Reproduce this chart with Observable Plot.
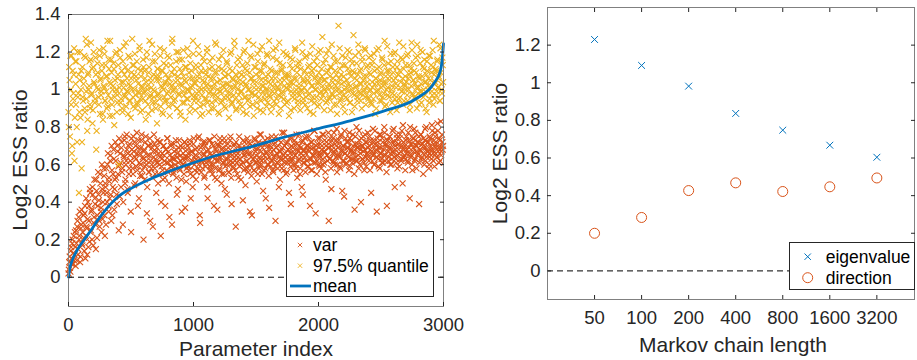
<!DOCTYPE html>
<html><head><meta charset="utf-8">
<script src="https://cdn.jsdelivr.net/npm/d3@7"></script>
<script src="https://cdn.jsdelivr.net/npm/@observablehq/plot@0.6"></script>
<style>
body{margin:0;background:#fff;}
#wrap{position:relative;width:917px;height:360px;overflow:hidden;font-family:"Liberation Sans",Arial,Helvetica,sans-serif;}
#wrap > svg{position:absolute;top:0;}
</style></head><body><div id="wrap"></div>
<script>
// ---------- data (left panel): parameter index step, values in hundredths ----------
const indexStep = 6;
// set A at index i*6, set B at index i*6+3
const varValues = [
2,8,5,14,10,18,7,22,12,16, 25,9,30,15,20,35,11,28,18,24, 33,14,38,22,27,12,40,30,19,45,
25,36,48,17,32,42,28,52,21,38, 44,30,55,35,24,47,40,58,33,50, 28,45,60,38,53,42,65,30,57,48,
68,36,52,62,44,70,55,25,60,66, 48,72,58,40,64,75,52,62,68,45, 70,58,65,35,74,61,55,67,72,50,
63,77,57,69,42,66,60,73,54,64, 20,68,59,75,62,48,70,56,65,30, 71,60,53,67,76,58,63,45,69,61,
55,72,64,22,59,66,52,70,62,38, 68,57,74,61,50,65,59,71,28,63, 56,67,60,73,53,64,47,69,58,62,
70,35,60,66,55,72,63,51,68,59, 64,57,71,42,61,67,54,74,60,65, 52,69,62,58,75,33,63,56,70,61,
66,53,72,59,64,48,68,62,57,73, 60,65,55,70,38,63,58,67,52,71, 62,57,74,64,50,68,61,55,72,59,
66,44,63,69,56,60,75,53,65,61, 58,71,62,27,67,55,64,70,59,63, 52,68,61,73,57,65,49,69,62,58,
72,60,35,66,54,70,63,57,74,61, 65,51,69,62,58,76,60,67,55,71, 63,57,73,42,66,60,70,54,64,68,
59,75,62,56,71,65,30,69,61,58, 73,64,52,67,60,77,63,57,70,66, 55,72,61,68,45,64,59,74,62,69,
57,71,65,60,76,53,67,63,70,58, 66,48,73,61,68,64,56,75,62,70, 59,67,38,72,63,57,69,65,78,61,
68,55,71,64,60,74,66,58,70,63, 76,61,67,52,72,65,69,30,63,74, 58,70,66,62,77,60,68,73,56,65,
71,64,59,75,67,46,70,62,78,66, 60,72,65,69,57,74,63,68,61,76, 67,55,71,64,80,62,69,58,73,66,
40,70,63,75,61,68,72,59,66,77, 64,70,57,73,67,62,79,65,60,71, 68,35,74,63,69,58,76,66,61,72,
65,80,62,70,56,73,67,64,75,60, 69,63,78,66,72,48,68,61,74,65, 71,59,76,67,63,70,81,64,68,57,
73,66,62,77,69,42,71,65,60,74, 67,79,63,70,58,72,66,75,61,68, 76,64,71,55,69,73,62,80,67,65,
72,60,74,68,63,78,66,71,59,75, 69,64,82,67,61,73,70,65,76,68
];
const varValuesB = [
4,11,3,16,7,20,13,9,24,6, 18,27,12,32,22,8,26,36,17,29, 21,34,10,42,26,31,16,38,47,24,
35,20,44,29,52,39,15,46,33,56, 41,27,50,37,60,31,45,54,22,48, 58,40,66,35,51,62,44,70,33,55,
63,47,72,53,39,67,59,74,43,61, 69,56,28,65,73,50,60,76,47,66, 55,71,62,24,68,58,75,49,64,70,
59,66,38,73,61,54,69,76,57,63, 67,52,72,60,34,65,70,56,74,62, 58,69,27,64,71,55,67,61,73,50,
66,60,72,40,63,57,70,65,53,68, 61,74,56,67,32,62,70,59,64,55, 71,63,58,68,44,66,61,73,57,65,
52,69,63,60,72,37,64,58,70,66, 59,73,55,67,62,48,71,64,57,68, 63,56,74,60,66,29,69,62,58,72,
65,54,70,61,67,42,63,73,59,66, 57,71,64,60,75,53,68,62,36,70, 64,58,72,66,55,69,61,74,47,63,
68,60,71,56,65,73,62,39,67,59, 70,64,57,72,61,66,53,75,63,68, 60,69,41,65,72,58,67,62,74,56,
66,71,60,64,33,70,63,57,73,67, 61,68,55,72,64,59,76,62,69,46, 65,71,58,67,63,74,60,37,70,66,
62,73,57,68,64,59,75,66,61,70, 48,67,63,72,58,69,65,77,61,64, 71,56,68,62,74,66,39,70,63,67,
60,73,65,58,71,68,62,76,55,69, 64,72,44,67,61,74,66,70,59,68, 75,63,69,57,72,65,61,78,67,34,
70,62,74,66,59,71,64,68,76,60, 67,73,56,70,65,62,77,69,63,72, 47,68,74,61,66,71,64,79,60,69,
73,65,58,76,68,62,70,43,66,74, 61,69,72,64,77,59,67,73,63,70, 66,36,75,62,69,71,65,78,60,68,
74,63,70,67,57,76,64,72,66,69, 62,75,68,45,71,65,73,60,78,67, 70,64,72,59,76,66,69,63,74,61,
68,77,65,71,38,73,62,69,75,66, 60,72,67,79,64,70,63,76,58,71, 66,74,69,62,78,50,72,65,70,63,
75,68,61,73,66,80,64,71,57,69, 74,62,77,67,70,65,72,39,68,76, 63,71,66,74,60,79,69,64,72,67,
58,75,70,65,81,68,62,73,77,66, 71,64,78,69,74,62,83,67,72,70
];
const quantileValues = [
88,112,75,100,118,70,95,108,62,115, 92,80,120,98,45,105,85,110,72,96, 103,118,88,127,95,78,108,100,115,90,
125,98,82,112,104,93,117,68,101,109, 96,121,87,106,99,113,84,102,119,94, 107,90,126,97,111,86,103,116,92,100,
114,81,105,98,120,93,108,60,101,117, 95,110,88,104,123,97,112,91,106,99, 118,94,102,85,109,127,96,113,100,90,
107,115,93,103,98,121,88,110,101,95, 112,99,106,84,117,102,92,109,126,97, 104,89,115,100,96,119,93,107,82,111,
98,105,122,91,110,101,87,114,96,103, 108,94,118,99,106,86,113,102,125,92, 100,111,95,104,120,90,107,98,116,88,
103,109,93,121,97,105,84,112,100,95, 118,99,106,91,110,102,126,96,104,89, 113,98,107,94,119,101,86,110,97,105,
92,115,100,108,95,122,103,88,111,99, 106,93,117,101,90,109,97,124,104,96, 112,87,105,99,118,94,102,110,91,107,
100,115,96,103,85,111,98,120,93,106, 101,126,95,108,90,104,116,97,109,92, 103,99,113,88,107,121,96,102,110,94,
126,100,91,106,117,98,104,86,112,97, 108,93,119,101,96,110,89,105,123,99, 102,114,95,107,91,118,100,104,97,111,
88,106,99,121,94,103,109,92,116,101, 97,125,105,90,110,98,113,95,102,107, 119,93,100,108,86,104,117,99,111,96,
103,90,122,106,98,112,94,101,115,89, 107,100,120,95,104,110,92,118,99,105, 97,113,88,108,102,123,96,111,93,106,
100,117,91,104,109,98,121,95,107,102, 114,89,105,99,119,94,110,103,96,112, 101,124,97,106,92,115,100,108,87,104,
134,98,111,95,103,118,91,107,100,113, 96,105,121,99,109,93,102,116,88,110, 129,97,106,101,114,94,108,120,98,103,
111,90,117,105,99,122,96,107,102,113, 95,109,100,118,92,104,115,98,110,87, 106,121,99,103,112,94,108,101,117,96,
104,113,91,107,100,123,97,110,105,88, 115,102,98,109,119,95,106,101,112,93, 108,125,96,104,99,116,92,111,103,107,
100,118,94,106,113,89,109,102,121,97, 105,110,95,117,101,124,98,107,92,114, 103,99,120,96,111,104,90,108,115,100,
106,93,118,102,109,97,112,126,95,104, 110,99,116,101,107,94,122,103,98,113
];
const quantileValuesB = [
80,105,118,92,66,110,98,122,85,103, 115,72,96,108,88,120,100,58,112,94, 106,90,117,99,124,84,109,102,92,116,
97,111,89,120,103,95,108,78,114,100, 92,118,105,97,110,87,122,101,94,113, 99,107,91,116,104,126,95,109,86,102,
111,96,119,100,88,106,113,98,121,93, 104,90,115,101,108,96,125,99,110,87, 103,117,94,106,100,113,91,108,119,97,
105,92,111,99,123,95,107,102,89,116, 98,110,94,104,120,100,87,112,96,106, 101,124,93,108,99,115,90,105,111,97,
107,95,118,102,88,110,100,121,94,104, 113,98,106,91,117,103,96,109,127,99, 94,108,101,115,90,105,120,97,111,86,
102,116,99,107,93,112,104,95,122,100, 109,88,114,101,97,106,119,94,103,111, 96,105,123,99,108,91,113,100,87,117,
104,95,110,102,120,93,107,98,115,101, 90,112,97,106,103,125,94,109,100,88, 116,99,105,93,111,102,121,96,107,90,
103,114,98,108,95,119,101,92,110,105, 97,123,102,89,113,100,106,94,117,99, 108,91,104,120,96,111,103,87,114,100,
95,109,118,98,106,92,124,101,97,112, 104,90,115,99,107,121,94,110,102,88, 113,97,105,100,119,93,108,126,96,103,
110,91,117,101,98,106,122,95,109,100, 87,114,103,96,111,99,120,105,92,108, 101,118,94,107,102,113,89,104,116,98,
106,95,121,100,109,92,114,103,97,111, 99,125,93,105,101,117,96,108,90,112, 104,98,119,94,110,102,87,115,100,107,
96,113,103,120,92,106,99,111,128,97, 105,100,116,93,109,101,121,95,107,89, 112,98,104,118,96,110,102,92,115,100,
106,122,94,108,99,113,97,104,88,117, 101,95,111,103,120,93,107,100,114,98, 109,91,118,102,105,96,124,99,110,94,
103,115,97,107,100,121,92,112,104,96, 117,99,108,93,113,101,95,119,103,106, 90,111,100,122,97,105,109,94,116,102,
98,126,104,92,110,101,114,96,107,119, 100,93,112,105,97,120,103,89,115,108, 95,110,101,117,99,106,123,94,102,113,
104,97,119,100,108,92,111,125,98,105, 114,96,103,109,90,118,101,106,99,121, 93,107,112,100,116,97,104,88,110,102,
118,95,105,113,99,121,92,108,103,111, 97,115,101,106,124,94,109,100,117,104
];
const meanIndex  = [0, 10, 30, 70, 125, 180, 230, 310, 390, 520, 660, 790, 1000, 1190, 1460, 1720, 1990, 2260, 2520, 2790, 2920, 2975, 2995, 3000];
const meanValues = [0, 0.045, 0.09, 0.145, 0.20, 0.25, 0.30, 0.37, 0.425, 0.48, 0.525, 0.56, 0.61, 0.65, 0.695, 0.745, 0.79, 0.835, 0.885, 0.955, 1.03, 1.10, 1.20, 1.245];
const leftXTicks = [0, 1000, 2000, 3000];
const leftYTicks = [0, 0.2, 0.4, 0.6, 0.8, 1, 1.2, 1.4];

// ---------- data (right panel) ----------
const chainLengths = [50, 100, 200, 400, 800, 1600, 3200];
const eigenvalueRatio = [1.230, 1.092, 0.982, 0.837, 0.748, 0.668, 0.604];
const directionRatio  = [0.200, 0.284, 0.427, 0.468, 0.422, 0.447, 0.494];
const rightYTicks = [0, 0.2, 0.4, 0.6, 0.8, 1, 1.2];

const BLUE = "#0072BD", ORANGE = "#D95319", YELLOW = "#EDB120", INK = "#262626";
const FONT = '"Liberation Sans", Arial, Helvetica, sans-serif';

const toRows = (arr, offset) => arr.map((v, i) => ({x: i * indexStep + offset, y: v / 100}));
const varData = [...toRows(varValues, 0), ...toRows(varValuesB, indexStep / 2)];
const qData = [...toRows(quantileValues, 0), ...toRows(quantileValuesB, indexStep / 2)];
const meanData = meanIndex.map((x, i) => ({x, y: meanValues[i]}));
const rightData = chainLengths.map((n, i) => ({n, eig: eigenvalueRatio[i], dir: directionRatio[i]}));

const baseStyle = {fontFamily: FONT, fontSize: "18.5px", color: INK, background: "transparent", overflow: "visible"};

const left = Plot.plot({
  width: 470, height: 360, marginLeft: 68, marginRight: 27, marginTop: 14, marginBottom: 54,
  style: baseStyle,
  x: {domain: [0, 3000]},
  y: {domain: [-0.156, 1.4]},
  marks: [
    Plot.dot(varData, {x: "x", y: "y", symbol: "times", r: 2.8, stroke: ORANGE, strokeWidth: 1.1}),
    Plot.dot(qData, {x: "x", y: "y", symbol: "times", r: 2.8, stroke: YELLOW, strokeWidth: 1.1}),
    Plot.ruleY([0], {stroke: "#000", strokeDasharray: "6,4", strokeWidth: 1}),
    Plot.line(meanData, {x: "x", y: "y", stroke: BLUE, strokeWidth: 2.8, curve: "monotone-x"}),
    Plot.frame({stroke: "#808080", strokeWidth: 1}),
    Plot.axisX(leftXTicks, {anchor: "bottom", tickSize: -4, tickPadding: 15, tickFormat: d => String(d), label: null}),
    Plot.axisX(leftXTicks, {anchor: "top", tickSize: -4, tickFormat: () => "", label: null}),
    Plot.axisY(leftYTicks, {anchor: "left", tickSize: -4, tickPadding: 12, tickFormat: d => String(d), label: null}),
    Plot.axisY(leftYTicks, {anchor: "right", tickSize: -4, tickFormat: () => "", label: null})
  ]
});
left.style.left = "0px";

const right = Plot.plot({
  width: 457, height: 360, marginLeft: 87, marginRight: 3, marginTop: 7, marginBottom: 61,
  style: baseStyle,
  x: {type: "log", base: 2, domain: [25, 3200 * Math.pow(2, 0.8)]},
  y: {domain: [-0.152, 1.4]},
  marks: [
    Plot.ruleY([0], {stroke: "#000", strokeDasharray: "6,4", strokeWidth: 1}),
    Plot.dot(rightData, {x: "n", y: "eig", symbol: "times", r: 3.2, stroke: BLUE, strokeWidth: 1}),
    Plot.dot(rightData, {x: "n", y: "dir", symbol: "circle", r: 5, stroke: ORANGE, strokeWidth: 1, fill: "none"}),
    Plot.frame({stroke: "#808080", strokeWidth: 1}),
    Plot.axisX(chainLengths, {anchor: "bottom", tickSize: -4, tickPadding: 15, tickFormat: d => String(d), label: null}),
    Plot.axisX(chainLengths, {anchor: "top", tickSize: -4, tickFormat: () => "", label: null}),
    Plot.axisY(rightYTicks, {anchor: "left", tickSize: -4, tickPadding: 11, tickFormat: d => String(d), label: null}),
    Plot.axisY(rightYTicks, {anchor: "right", tickSize: -4, tickFormat: () => "", label: null})
  ]
});
right.style.left = "460px";

const wrap = document.getElementById("wrap");
wrap.appendChild(left);
wrap.appendChild(right);

// ---------- overlay: axis titles and legends ----------
const ns = "http://www.w3.org/2000/svg";
const ov = document.createElementNS(ns, "svg");
ov.setAttribute("width", 917); ov.setAttribute("height", 360);
ov.style.left = "0px"; ov.style.pointerEvents = "none";
ov.setAttribute("font-family", FONT);
ov.innerHTML = `
  <text x="256" y="355.5" font-size="21" fill="${INK}" text-anchor="middle">Parameter index</text>
  <text transform="translate(27,160) rotate(-90)" font-size="21" fill="${INK}" text-anchor="middle">Log2 ESS ratio</text>
  <text x="733" y="351.5" font-size="21" fill="${INK}" text-anchor="middle">Markov chain length</text>
  <text transform="translate(507,153.5) rotate(-90)" font-size="21" fill="${INK}" text-anchor="middle">Log2 ESS ratio</text>

  <rect x="286.5" y="231.5" width="147" height="65" fill="#fff" stroke="${INK}" stroke-width="1"/>
  <path d="M297.8,242.8L302.2,247.2M297.8,247.2L302.2,242.8" stroke="${ORANGE}" stroke-width="0.9"/>
  <text x="313" y="245" dy="0.35em" font-size="17.5" fill="#000">var</text>
  <path d="M297.8,263.5L302.2,267.9M297.8,267.9L302.2,263.5" stroke="${YELLOW}" stroke-width="0.9"/>
  <text x="313" y="265.7" dy="0.35em" font-size="17.5" fill="#000">97.5% quantile</text>
  <line x1="290" y1="286" x2="311" y2="286" stroke="${BLUE}" stroke-width="2.8"/>
  <text x="313" y="286" dy="0.35em" font-size="17.5" fill="#000">mean</text>

  <rect x="789.5" y="242.5" width="125" height="47" fill="#fff" stroke="${INK}" stroke-width="1"/>
  <path d="M804.5,253.5L810.9,259.9M804.5,259.9L810.9,253.5" stroke="${BLUE}" stroke-width="1"/>
  <text x="825.7" y="256.7" dy="0.35em" font-size="17.5" fill="#000">eigenvalue</text>
  <circle cx="807.7" cy="277.7" r="5" fill="none" stroke="${ORANGE}" stroke-width="1"/>
  <text x="825.7" y="277.7" dy="0.35em" font-size="17.5" fill="#000">direction</text>
`;
wrap.appendChild(ov);
</script>
</body></html>
